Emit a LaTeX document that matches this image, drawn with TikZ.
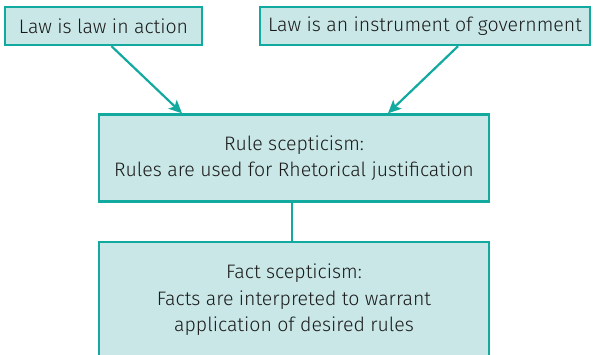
\documentclass[tikz,border=0pt]{standalone}
\usepackage{fontspec}
\setmainfont{Fira Sans Light}
\usetikzlibrary{arrows.meta}
\definecolor{tealline}{HTML}{12A99E}
\definecolor{tealfill}{HTML}{C9E7E7}
\definecolor{inktext}{HTML}{1A1A1A}
\tikzset{
  box/.style={draw=tealline, fill=tealfill, line width=2.4pt, inner sep=0pt,
    text=inktext, align=center, font=\fontsize{19.5}{26.5}\selectfont},
  link/.style={draw=tealline, line width=2.2pt},
  arrowlink/.style={link, -{Stealth[length=13pt, width=12pt, inset=3pt]}}
}
\begin{document}
\begin{tikzpicture}[x=1pt, y=-1pt]
  \useasboundingbox (0,0) rectangle (593,354);
  % top row
  \node[box, minimum width=197pt, minimum height=38pt] (action) at (103.5,26)
    {Law is law in action};
  \node[box, minimum width=330pt, minimum height=38pt] (govt) at (425,26)
    {Law is an instrument of government};
  % rule scepticism
  \node[box, minimum width=390pt, minimum height=87pt] (rule) at (294,158)
    {Rule scepticism:\\Rules are used for Rhetorical justification};
  % fact scepticism, running off the lower edge
  \node[box, minimum width=390pt, minimum height=116pt] (fact) at (294,300)
    {Fact scepticism:\\Facts are interpreted to warrant\\application of desired rules};
  % connectors
  \draw[arrowlink] ([xshift=8pt]action.south) -- ([xshift=-112pt]rule.north);
  \draw[arrowlink] ([xshift=33pt]govt.south) -- ([xshift=94pt]rule.north);
  \draw[link] ([xshift=-2pt]rule.south) -- ([xshift=-2pt]fact.north);
\end{tikzpicture}
\end{document}
